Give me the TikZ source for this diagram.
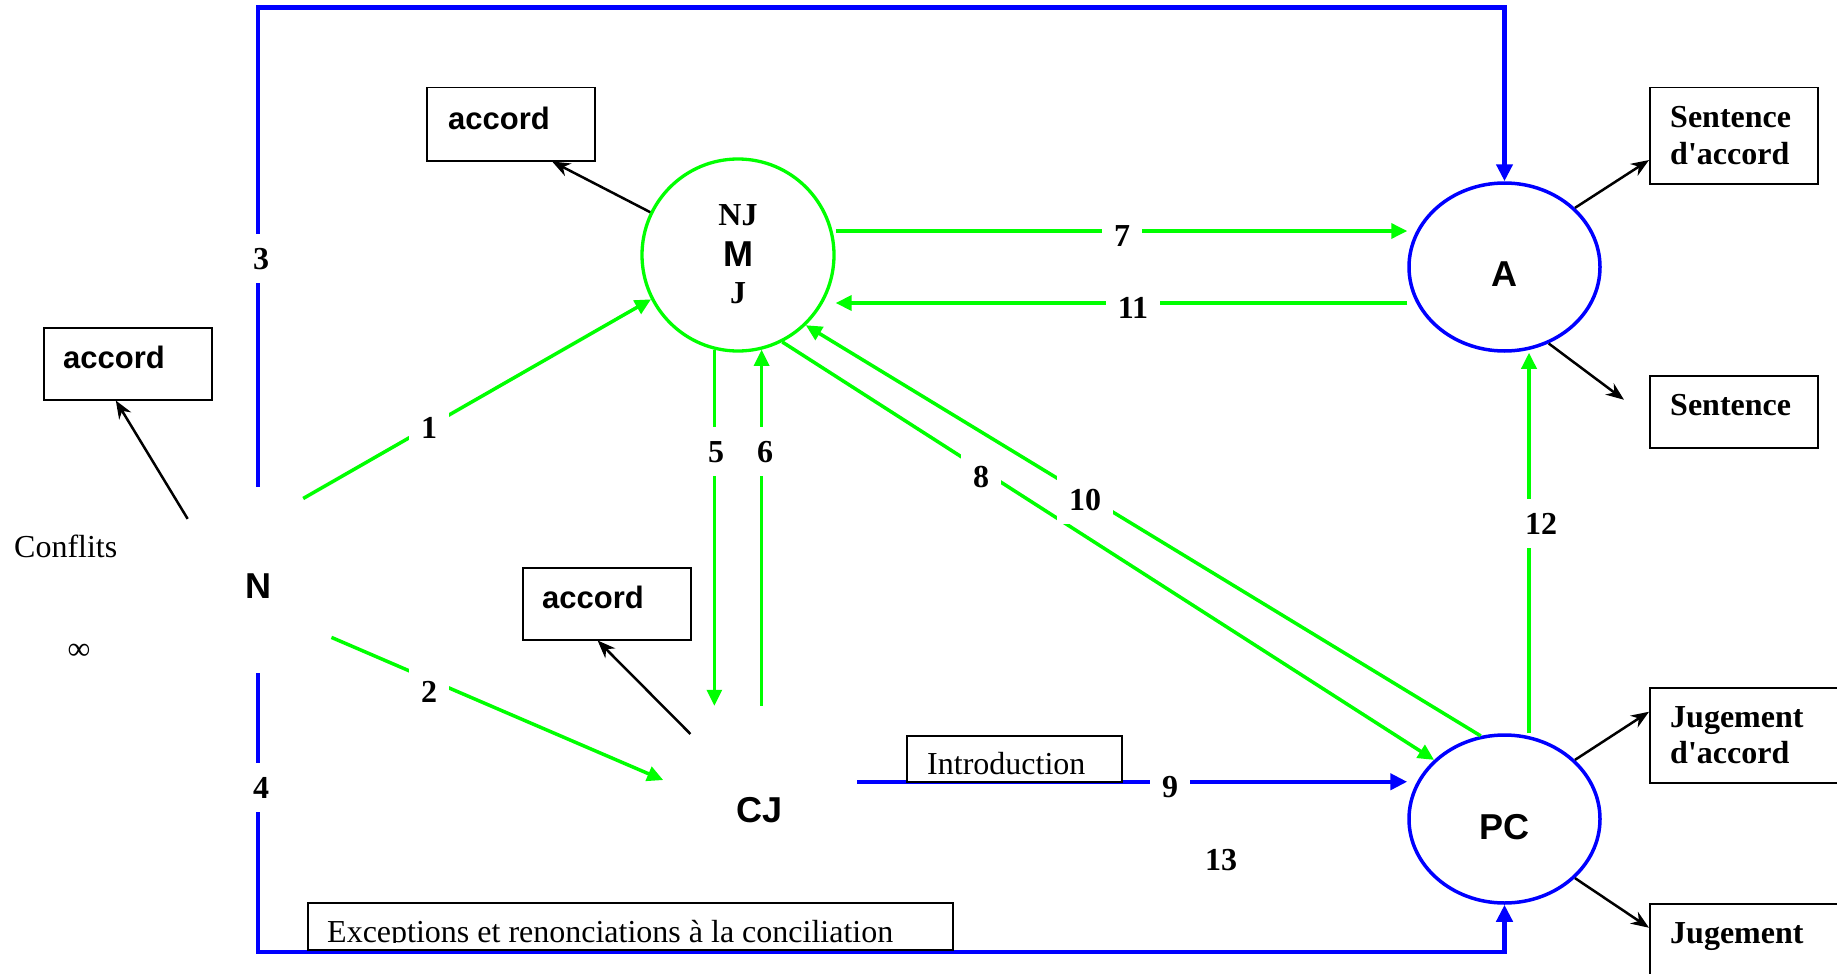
\documentclass[tikz,border=0pt]{standalone}
\usepackage{fontspec}
\newfontfamily\serf{Liberation Serif}
\newfontfamily\sansf{Liberation Sans}
\usetikzlibrary{arrows.meta,shapes.geometric}
\definecolor{grn}{RGB}{0,255,0}
\definecolor{blu}{RGB}{0,0,255}
\tikzset{
  gl/.style={draw=grn, line width=3.5pt},
  ga/.style={gl, -{Triangle[length=16pt,width=15pt]}},
  bl/.style={draw=blu, line width=4.5pt},
  ba/.style={bl, -{Triangle[length=17pt,width=16pt]}},
  ka/.style={draw=black, line width=2.5pt, -{Stealth[length=18pt,width=14pt]}},
  boxn/.style={draw=black, line width=1.5pt, fill=white, inner sep=0pt, anchor=north west},
  sb/.style={font=\serf\bfseries\fontsize{32}{36}\selectfont, inner sep=0pt},
  sr/.style={font=\serf\fontsize{32}{36}\selectfont, inner sep=0pt},
  ab/.style={font=\sansf\bfseries\fontsize{36}{40}\selectfont, inner sep=0pt},
  acc/.style={font=\sansf\bfseries\fontsize{31}{36}\selectfont, inner sep=0pt, anchor=base west},
  num/.style={sb, fill=white, inner xsep=12pt, inner ysep=14pt, anchor=base},
  hub/.style={circle, inner sep=0pt},
}
\begin{document}
\begin{tikzpicture}[x=1pt,y=-1pt]
\useasboundingbox (0,0) rectangle (1837,974);
\fill[white] (0,0) rectangle (1837,974);
% main nodes
\node[circle, draw=grn, line width=3.3pt, minimum size=192pt, inner sep=0pt] (M) at (738,255) {};
\node[sb, anchor=base] (tNJ) at (738,225) {NJ};
\node[ab, anchor=base] (tM) at (738,266) {M};
\node[sb, anchor=base] (tJ) at (738,303) {J};
\node[ab, ellipse, draw=blu, line width=3.5pt, minimum width=191pt, minimum height=168pt, text height=38pt, text depth=0pt] (A) at (1504.5,267) {A};
\node[ab, ellipse, draw=blu, line width=3.5pt, minimum width=191pt, minimum height=168pt, text height=40pt, text depth=0pt] (PC) at (1504.5,819) {PC};
\node[ab, hub, minimum size=186pt, text height=36pt, text depth=0pt] (N) at (258,580) {N};
\node[ab, hub, minimum size=200pt, text height=32pt, text depth=0pt] (CJ) at (760,806) {CJ};
\coordinate (topy) at (0,7.5);
\coordinate (boty) at (0,952);
\coordinate (y7) at (0,231);
\coordinate (y11) at (0,303);
\coordinate (x12) at (1529,0);
% blue connectors
\draw[ba] (N.north) -- (N.north |- topy) -| (A.north);
\draw[ba] (N.south) -- (N.south |- boty) -| (PC.south);
\draw[ba] (CJ.14) -- (CJ.14 -| PC.west);
% boxes
\node[boxn, minimum width=168pt, minimum height=73pt] (acc1) at (426,87) {};
\node[acc] (tacc1) at (448,129.5) {accord};
\node[boxn, minimum width=168pt, minimum height=72pt] (acc0) at (43,327) {};
\node[acc] (tacc0) at (63,368) {accord};
\node[boxn, minimum width=168pt, minimum height=72pt] (acc2) at (522,567) {};
\node[acc] (tacc2) at (542,608) {accord};
\node[boxn, minimum width=168pt, minimum height=96pt] (sda) at (1649,87) {};
\node[sb, anchor=base west] (tsda1) at (1670,128) {Sentence};
\node[sb, anchor=base west] (tsda2) at (1670,164) {d'accord};
\node[boxn, minimum width=168pt, minimum height=72pt] (sen) at (1649,375) {};
\node[sb, anchor=base west] (tsen) at (1670,415) {Sentence};
\node[boxn, minimum width=230pt, minimum height=95pt] (jda) at (1649,687) {};
\node[sb, anchor=base west] (tjda1) at (1670,727) {Jugement};
\node[sb, anchor=base west] (tjda2) at (1670,763) {d'accord};
\node[boxn, minimum width=230pt, minimum height=110pt] (jug) at (1649,903) {};
\node[sb, anchor=base west] (tjug) at (1670,943) {Jugement};
\node[boxn, minimum width=215pt, minimum height=46pt] (intro) at (906,735) {};
\node[sr, anchor=base west] (tintro) at (927,774) {Introduction};
\node[boxn, minimum width=645pt, minimum height=47pt] (exc) at (307,902) {};
\begin{scope}
\clip (exc.north west) rectangle (952,942);
\node[sr, anchor=base west] (texc) at (327,942) {Exceptions et renonciations à la conciliation};
\end{scope}
% green connectors
\draw[ga] (N.61) -- (M.207);
\draw[ga] (N.322) -- (CJ.165);
\draw[ga, line width=3pt] (M.256) -- (M.256 |- CJ.north);
\draw[ga, line width=3pt] (M.284 |- CJ.north) -- (M.284);
\draw[ga] (M.east |- y7) -- (A.west |- y7);
\draw[ga] (A.west |- y11) -- (M.east |- y11);
\draw[ga] (M.297) -- (PC.140);
\draw[ga] (PC.106) -- (M.314);
\draw[ga] (PC.north -| x12) -- (A.south -| x12);
% black connectors
\draw[ka] (N.139) -- (acc0.252);
\draw[ka] (M.154) -- (acc1.318);
\draw[ka] (CJ.134) -- (acc2.256);
\draw[ka] (A.40) -- (sda.196);
\draw[ka] (A.300) -- ([xshift=-25pt,yshift=12pt]sen.west);
\draw[ka] (PC.40) -- ([yshift=23.5pt]jda.west);
\draw[ka] (PC.320) -- ([yshift=31pt]jug.west);
% labels
\node[num] (l1) at (429,438) {1};
\node[num] (l2) at (429,702) {2};
\node[num] (l3) at (261,269) {3};
\node[num] (l4) at (261,798) {4};
\node[num] (l5) at (716,462) {5};
\node[num] (l6) at (765,462) {6};
\node[num] (l7) at (1122,246) {7};
\node[num] (l8) at (981,487) {8};
\node[num] (l9) at (1170,797) {9};
\node[num] (l10) at (1085,510) {10};
\node[num] (l11) at (1133,318) {11};
\node[num] (l12) at (1541,534) {12};
\node[sb, anchor=base] (l13) at (1221,870) {13};
\node[sr, anchor=base west] (conf) at (14,557) {Conflits};
\node[sr] (inf) at (79,652) {∞};
\end{tikzpicture}
\end{document}
